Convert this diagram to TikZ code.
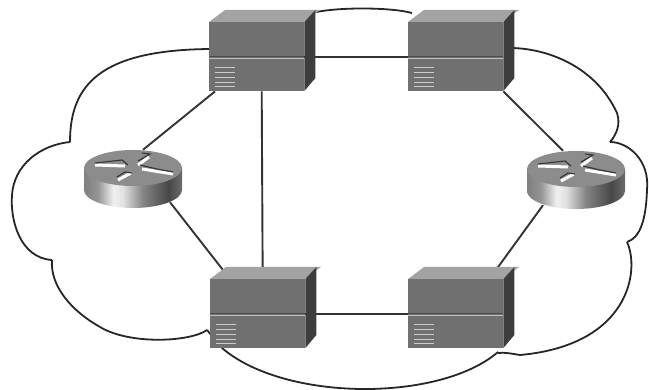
\documentclass[tikz,border=0pt]{standalone}
\usepackage{tikz}
\usetikzlibrary{calc}
\definecolor{swfront}{gray}{0.44}
\definecolor{swtopc}{gray}{0.64}
\definecolor{swside}{gray}{0.24}
\definecolor{rttop}{gray}{0.55}
\pgfdeclarehorizontalshading{rtbody}{100bp}{
	color(0bp)=(black!50); color(25bp)=(black!50); color(32bp)=(black!42); color(40bp)=(black!6);
	color(45bp)=(black!12); color(55bp)=(black!48); color(68bp)=(black!72); color(75bp)=(black!58); color(100bp)=(black!58)}
\newcommand{\cloudarc}[4]{\draw[cloudline] (#1) .. controls (#2) and (#3) .. (#4)}
\newcommand{\swnode}[3]{\node[swbox] (#1) at (#2,#3) {}}
\newcommand{\swface}[1]{\fill[swtopc] (#1.north west) --++ (16,-12) --++ (95,0) --++ (-16,12) -- cycle;
	\fill[swside] (#1.north east) --++ (11,-12) --++ (0,68) --++ (-11,13) -- cycle;
	\fill[swfront] (#1.north west) rectangle (#1.south east);
	\draw[black!70,line width=1.3pt] (#1.west) -- (#1.east);
	\draw[black!25,line width=0.5pt] ($(#1.west)+(0,1.3)$) -- ($(#1.east)+(0,1.3)$);
	\foreach \y in {11,16,21,26,30} {
		\draw[black!20,line width=0.9pt] ($(#1.west)+(6,\y)$) --++ (20,0);
	}}
\newcommand{\rtface}[1]{\begin{scope}[shift={(#1)}]
	\shade[shading=rtbody] (-49,-11) -- (-49,11) arc (180:0:49 and 18) -- (49,-11) -- cycle;
	\fill[rttop] (0,-11) ellipse (49 and 18);
	\draw[white,line width=3pt] (-38,-14) -- (-8,-13);
	\draw[white,line width=3pt] (5,-14) -- (16,-22);
	\draw[white,line width=3pt] (9,-10) -- (40,-5);
	\draw[white,line width=3pt] (-15,1) -- (-2,-6);
	\draw[black!80,line width=1.1pt] (-38,-16) -- (-11,-19) -- (-5,-14);
	\draw[black!80,line width=1.1pt] (5,-18) -- (17,-25) -- (9,-26);
	\draw[black!80,line width=1.1pt] (7,-14) -- (24,-10) -- (40,-7);
	\draw[black!80,line width=1.1pt] (-16,-2) -- (-8,-7) -- (-1,-6);
\end{scope}}
\tikzset{
	swbox/.style={minimum width=95pt,minimum height=69pt,inner sep=0pt,anchor=north west},
	rtbox/.style={minimum width=98pt,minimum height=58pt,inner sep=0pt},
	linkline/.style={black!80,line width=1.9pt},
	cloudline/.style={black!85,line width=1.8pt}
}
\begin{document}
\begin{tikzpicture}[x=1pt,y=-1pt]
	\useasboundingbox (0,0) rectangle (649,390);
	\swnode{swa}{209}{22};
	\swnode{swb}{408}{22};
	\swnode{swc}{210}{279};
	\swnode{swd}{408}{279};
	\node[rtbox] (rta) at (133,179) {};
	\node[rtbox] (rtb) at (576,180) {};
	\draw[linkline] (swa.east) -- (swb.west);
	\draw[linkline] (swc.east) -- (swd.west);
	\draw[linkline] ([xshift=5pt]swa.south) -- ([xshift=5pt]swc.north);
	\draw[linkline] ([xshift=10pt]rta.north) -- ([xshift=6pt]swa.south west);
	\draw[linkline] ([xshift=37pt,yshift=6pt]rta.south) -- ([xshift=20pt]swc.north west);
	\draw[linkline] (swb.south east) -- ([xshift=-13pt]rtb.north);
	\draw[linkline] ([xshift=-33pt,yshift=4pt]rtb.south) -- ([xshift=-14pt]swd.north east);
	\cloudarc{312,13}{335,7}{390,7}{412,13};
	\cloudarc{510,48}{545,48}{595,65}{617,113};
	\cloudarc{617,113}{621,125}{616,135}{610,142};
	\cloudarc{610,142}{628,142}{650,160}{647,190};
	\cloudarc{647,190}{646,220}{640,238}{627,242};
	\cloudarc{627,242}{640,270}{630,345}{520,355};
	\cloudarc{520,355}{513,354}{505,352}{498,353};
	\cloudarc{498,352}{440,402}{285,402}{222,348};
	\draw[cloudline] (222,348) -- (207,330);
	\cloudarc{207,330}{190,342}{130,345}{100,327};
	\cloudarc{100,327}{70,310}{50,285}{52,260};
	\cloudarc{52,260}{20,258}{10,220}{12,195};
	\cloudarc{12,195}{14,165}{40,145}{70,142};
	\cloudarc{70,142}{70,85}{100,50}{210,49};
	\swface{swa}
	\swface{swb}
	\swface{swc}
	\swface{swd}
	\rtface{rta}
	\rtface{rtb}
\end{tikzpicture}
\end{document}
